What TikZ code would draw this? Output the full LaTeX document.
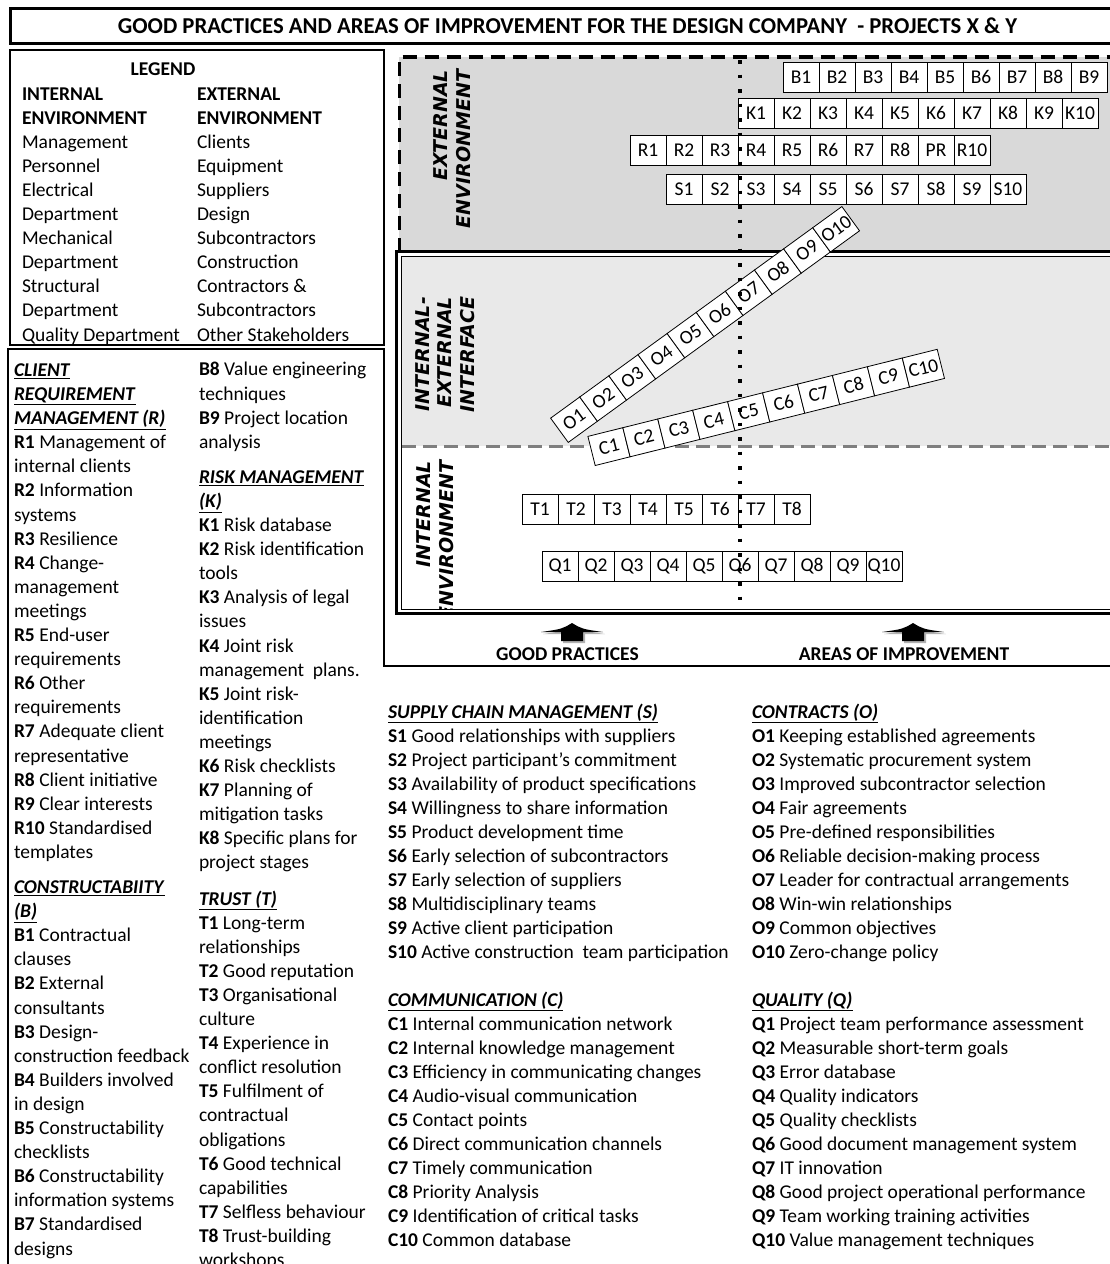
\documentclass[tikz,border=0pt]{standalone}
\usepackage{fontspec}
\setmainfont{Carlito}
\newfontfamily\zonefont{DejaVu Sans}
\definecolor{extgray}{HTML}{D9D9D9}
\definecolor{facegray}{HTML}{E9E9E9}
\definecolor{sepgray}{HTML}{7F7F7F}
\newcommand\bodyfont{\fontsize{19.5}{24.1}\selectfont}
\newcommand\hd[1]{\underline{\textbf{\itshape #1}}}

\begin{document}
\begin{tikzpicture}[x=1pt, y=-1pt]
\tikzset{ >=latex, inner sep=0pt, outer sep=0pt,
  chip/.style={draw, fill=white, line width=0.8pt, minimum width=36pt, minimum height=30pt, font=\bodyfont},
  list/.style={anchor=base west, align=left, font=\bodyfont},
  zone/.style={rotate=90, anchor=base east, align=right, font=\zonefont\bfseries\itshape\fontsize{19}{22.5}\selectfont},
  frame/.style={draw, line width=2pt},
}

\useasboundingbox (0,0) rectangle (1109,1264);

%\draw [lightgray, dashed] (0,0) grid [step=50] (1109,1264);

\draw [line width=3pt] (10,8) rectangle (1120,43);
\node [font=\fontsize{22.7}{27}\selectfont\bfseries, anchor=base] (title) at (567.5,33) {GOOD PRACTICES AND AREAS OF IMPROVEMENT FOR THE DESIGN COMPANY \ - PROJECTS X \& Y};

% lists are placed by the baseline of their last line
\draw [frame] (10,50) rectangle (384,345);
\node [font=\bodyfont\bfseries, anchor=base] (legend) at (163,75) {LEGEND};
\node [list] (intenv) at (22,341) {\textbf{INTERNAL}\\\textbf{ENVIRONMENT}\\Management\\Personnel\\Electrical\\Department\\Mechanical\\Department\\Structural\\Department\\Quality Department};
\node [list] (extenv) at (197,341) {\textbf{EXTERNAL}\\\textbf{ENVIRONMENT}\\Clients\\Equipment\\Suppliers\\Design\\Subcontractors\\Construction\\Contractors \&\\Subcontractors\\Other Stakeholders};

\draw [frame] (8,1280) -- (8,349) -- (384,349) -- (384,666) -- (1120,666);
\node [list] (Rlist) at (14,1255) {\hd{CLIENT}\\\hd{REQUIREMENT}\\\hd{MANAGEMENT (R)}\\
\textbf{R1} Management of\\internal clients\\\textbf{R2} Information\\systems\\\textbf{R3} Resilience\\
\textbf{R4} Change-\\management\\meetings\\\textbf{R5} End-user\\requirements\\\textbf{R6} Other\\requirements\\
\textbf{R7} Adequate client\\representative\\\textbf{R8} Client initiative\\\textbf{R9} Clear interests\\
\textbf{R10} Standardised\\templates\\[11pt]
\hd{CONSTRUCTABIITY}\\\hd{(B)}\\\textbf{B1} Contractual\\clauses\\\textbf{B2} External\\consultants\\
\textbf{B3} Design-\\construction feedback\\\textbf{B4} Builders involved\\in design\\
\textbf{B5} Constructability\\checklists\\\textbf{B6} Constructability\\information systems\\
\textbf{B7} Standardised\\designs};
\node [list] (Klist) at (199,1266.5) {\textbf{B8} Value engineering\\techniques\\\textbf{B9} Project location\\analysis\\[11pt]
\hd{RISK MANAGEMENT}\\\hd{(K)}\\\textbf{K1} Risk database\\\textbf{K2} Risk identification\\tools\\
\textbf{K3} Analysis of legal\\issues\\\textbf{K4} Joint risk\\management \ plans.\\\textbf{K5} Joint risk-\\identification\\meetings\\
\textbf{K6} Risk checklists\\\textbf{K7} Planning of\\mitigation tasks\\\textbf{K8} Specific plans for\\project stages\\[12pt]
\hd{TRUST (T)}\\\textbf{T1} Long-term\\relationships\\\textbf{T2} Good reputation\\\textbf{T3} Organisational\\culture\\
\textbf{T4} Experience in\\conflict resolution\\\textbf{T5} Fulfilment of\\contractual\\obligations\\
\textbf{T6} Good technical\\capabilities\\\textbf{T7} Selfless behaviour\\\textbf{T8} Trust-building\\workshops};

\node [list, font=\fontsize{19.5}{24}\selectfont] (Slist) at (388,1246) {\hd{SUPPLY CHAIN MANAGEMENT (S)}\\
\textbf{S1} Good relationships with suppliers\\\textbf{S2} Project participant's commitment\\
\textbf{S3} Availability of product specifications\\\textbf{S4} Willingness to share information\\
\textbf{S5} Product development time\\\textbf{S6} Early selection of subcontractors\\
\textbf{S7} Early selection of suppliers\\\textbf{S8} Multidisciplinary teams\\
\textbf{S9} Active client participation\\\textbf{S10} Active construction \ team participation\\[24pt]
\hd{COMMUNICATION (C)}\\
\textbf{C1} Internal communication network\\\textbf{C2} Internal knowledge management\\
\textbf{C3} Efficiency in communicating changes\\\textbf{C4} Audio-visual communication\\
\textbf{C5} Contact points\\\textbf{C6} Direct communication channels\\\textbf{C7} Timely communication\\
\textbf{C8} Priority Analysis\\\textbf{C9} Identification of critical tasks\\\textbf{C10} Common database};
\node [list, font=\fontsize{19.5}{24}\selectfont] (Olist) at (752,1246) {\hd{CONTRACTS (O)}\\
\textbf{O1} Keeping established agreements\\\textbf{O2} Systematic procurement system\\
\textbf{O3} Improved subcontractor selection\\\textbf{O4} Fair agreements\\
\textbf{O5} Pre-defined responsibilities\\\textbf{O6} Reliable decision-making process\\
\textbf{O7} Leader for contractual arrangements\\\textbf{O8} Win-win relationships\\
\textbf{O9} Common objectives\\\textbf{O10} Zero-change policy\\[24pt]
\hd{QUALITY (Q)}\\
\textbf{Q1} Project team performance assessment\\\textbf{Q2} Measurable short-term goals\\
\textbf{Q3} Error database\\\textbf{Q4} Quality indicators\\\textbf{Q5} Quality checklists\\
\textbf{Q6} Good document management system\\\textbf{Q7} IT innovation\\
\textbf{Q8} Good project operational performance\\\textbf{Q9} Team working training activities\\
\textbf{Q10} Value management techniques};

\fill [extgray] (399,57) rectangle (1120,252);
\fill [facegray] (401,256) rectangle (1120,446);
\draw [line width=3.5pt, dash pattern=on 14pt off 8pt] (399.5,252) -- (399.5,57) -- (1120,57);
\draw [line width=3.5pt] (396.5,251.5) rectangle (1120,613.5);
\draw [line width=1pt] (401,256) rectangle (1120,609);
\draw [sepgray, line width=3pt, dash pattern=on 14pt off 7pt] (402,446) -- (1120,446);

\node [zone] (extzone) at (470,70) {EXTERNAL\\ENVIRONMENT};
\begin{scope}
\clip (401,256) rectangle (1109,609);
\node [zone] (facezone) at (474,297) {INTERNAL-\\EXTERNAL\\INTERFACE};
\node [zone] (intzone) at (453,461) {INTERNAL\\ENVIRONMENT};
\end{scope}

\foreach \i in {1,...,9} \node [chip] (B\i) at ({765+36*\i},77) {B\i};
\foreach \i in {1,...,10} \node [chip] (K\i) at ({720+36*\i},113) {K\i};
\foreach \t [count=\i] in {R1,R2,R3,R4,R5,R6,R7,R8,PR,R10} \node [chip] (R\i) at ({612+36*\i},150) {\t};
\foreach \i in {1,...,10} \node [chip] (S\i) at ({648+36*\i},189) {S\i};
\foreach \i in {1,...,8} \node [chip] (T\i) at ({504+36*\i},509) {T\i};
\foreach \i in {1,...,10} \node [chip] (Q\i) at ({524+36*\i},566) {Q\i};

\begin{scope}[shift={(574,419.7)}, rotate=36, transform shape]
\foreach \i in {1,...,10} \node [chip] (O\i) at ({36*\i-36},0) {O\i};
\end{scope}
\begin{scope}[shift={(609,446.6)}, rotate=14, transform shape]
\foreach \i in {1,...,10} \node [chip] (C\i) at ({36*\i-36},0) {C\i};
\end{scope}

\draw [line width=3.5pt, dash pattern=on 3.5pt off 11pt] (740,60) -- (740,606);

\foreach \x in {572,913} {
  \fill [black, opacity=0.3] (\x+2,625) .. controls (\x+12,631) .. (\x+33,634) -- (\x+13,634) -- (\x+13,643) -- (\x-9,643) -- (\x-9,634) -- (\x-29,634) .. controls (\x-8,631) .. cycle;
  \fill [black] (\x,623) .. controls (\x+10,629) .. (\x+31,632) -- (\x+11,632) -- (\x+11,641) -- (\x-11,641) -- (\x-11,632) -- (\x-31,632) .. controls (\x-10,629) .. cycle;
}
\node [font=\bodyfont\bfseries, anchor=base] (good) at (567.5,660) {GOOD PRACTICES};
\node [font=\bodyfont\bfseries, anchor=base] (areas) at (904,660) {AREAS OF IMPROVEMENT};
\end{tikzpicture}
\end{document}
